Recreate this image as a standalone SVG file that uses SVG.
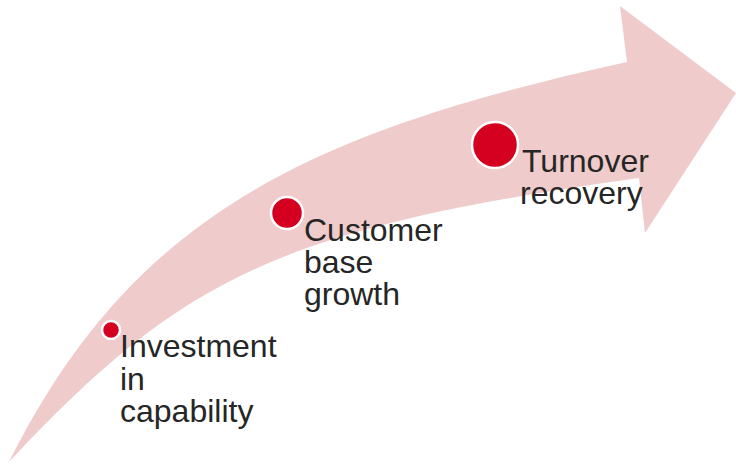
<svg xmlns="http://www.w3.org/2000/svg" width="736" height="464" viewBox="0 0 736 464">
<style>
.arrow{fill:#EFCBCB;stroke:none}
.dot{fill:#D5001F;stroke:#FFFFFF;stroke-width:2.5}
.lbl{font-family:"Liberation Sans",Arial,sans-serif;font-size:32px;fill:#262626}
</style>
<rect width="736" height="464" fill="#FFFFFF"/>
<g id="connectors">
<path class="arrow" d="M 9,462 C 133,214 309.5,132 627,62 L 620,6 L 736,93 L 645,233 L 639,178 C 281,228 183,276 9,462 Z"/>
</g>
<g id="node-investment">
<circle class="dot" cx="111" cy="330" r="9"/>
<text class="lbl" x="120" y="357"><tspan x="120" y="357">Investment</tspan><tspan x="120" y="390">in</tspan><tspan x="120" y="422">capability</tspan></text>
</g>
<g id="node-customer">
<circle class="dot" cx="287" cy="213" r="16"/>
<text class="lbl" x="304" y="241"><tspan x="304" y="241">Customer</tspan><tspan x="304" y="273">base</tspan><tspan x="304" y="305">growth</tspan></text>
</g>
<g id="node-turnover">
<circle class="dot" cx="495" cy="145" r="23"/>
<text class="lbl" x="522" y="172"><tspan x="522" y="172">Turnover</tspan><tspan x="520" y="204">recovery</tspan></text>
</g>
</svg>
